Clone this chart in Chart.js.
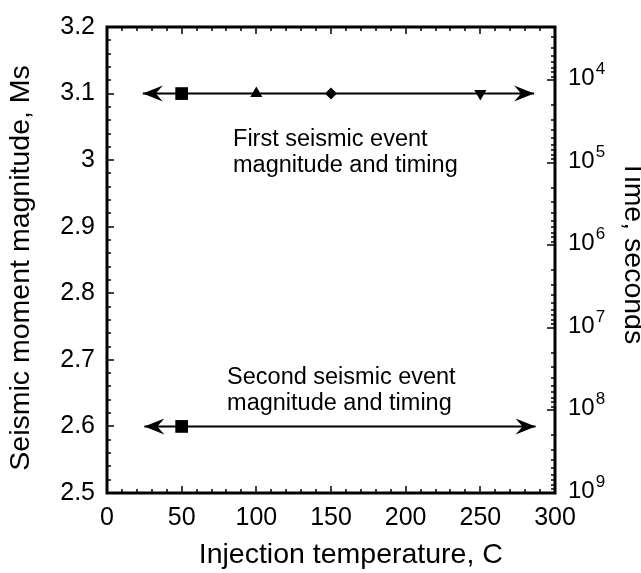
<!DOCTYPE html>
<html>
<head>
<meta charset="utf-8">
<script src="https://cdn.jsdelivr.net/npm/chart.js@4/dist/chart.umd.min.js"></script>
<style>
  html, body { margin: 0; padding: 0; background: #fff; }
  canvas { display: block; }
</style>
</head>
<body>
<canvas id="chart" width="641" height="573"></canvas>
<script>
// data
const firstTemps = [50, 100, 150, 250];
const firstMagnitudes = [3.1, 3.1, 3.1, 3.1];
const secondTemps = [50];
const secondMagnitudes = [2.6];
const firstSpan = [24, 286];   // arrow ends, injection temperature C
const secondSpan = [25, 287];

const tempRange = [0, 300];
const magnitudeRange = [2.5, 3.2];
const timeRange = [2250, 1e9];
const timeTicks = [1e4, 1e5, 1e6, 1e7, 1e8, 1e9];
const timeTickExponents = ['4', '5', '6', '7', '8', '9'];

const notes = [
  { x: 84.4, y: 3.021, lines: ['First seismic event', 'magnitude and timing'] },
  { x: 80.4, y: 2.664, lines: ['Second seismic event', 'magnitude and timing'] }
];

const FONT = "'Liberation Sans', Arial, sans-serif";

// frame, inward tick marks, time labels, arrow heads and text notes
const decorations = {
  id: 'decorations',
  afterDatasetsDraw(chart) {
    const { ctx, chartArea: a, scales } = chart;
    const x = scales.x, y = scales.y, y2 = scales.y2;
    ctx.save();
    ctx.strokeStyle = '#000';
    ctx.fillStyle = '#000';
    ctx.lineWidth = 1.5;
    const seg = (x1, y1, x2, y2_) => { ctx.beginPath(); ctx.moveTo(x1, y1); ctx.lineTo(x2, y2_); ctx.stroke(); };

    // x ticks (bottom and top)
    for (let v = tempRange[0]; v <= tempRange[1]; v += 10) {
      const px = Math.round(x.getPixelForValue(v));
      const len = v % 50 === 0 ? 7 : 4;
      seg(px, a.bottom, px, a.bottom - len);
      seg(px, a.top, px, a.top + len);
    }
    // left ticks
    for (let i = 0; i <= 35; i++) {
      const v = magnitudeRange[0] + i * 0.02;
      const py = Math.round(y.getPixelForValue(v));
      const len = i % 5 === 0 ? 7 : 4;
      seg(a.left, py, a.left + len, py);
    }
    // right log ticks
    for (let e = 3; e <= 9; e++) {
      for (let k = 1; k <= 9; k++) {
        const v = k * Math.pow(10, e);
        if (v < timeRange[0] || v > timeRange[1]) continue;
        const py = Math.round(y2.getPixelForValue(v));
        const len = k === 1 ? 8 : 4;
        seg(a.right, py, a.right - len, py);
      }
    }

    // right labels, 10 with a raised exponent
    ctx.textAlign = 'left';
    ctx.textBaseline = 'middle';
    timeTicks.forEach((v, i) => {
      const py = y2.getPixelForValue(v) - 2;
      const lx = a.right + 13;
      ctx.font = '24px ' + FONT;
      ctx.fillText('10', lx, py);
      const w = ctx.measureText('10').width;
      ctx.font = '17px ' + FONT;
      ctx.fillText(timeTickExponents[i], lx + w + 1, py - 9);
    });

    // arrow heads
    const head = (tipX, tipY, dir) => {
      ctx.beginPath();
      ctx.moveTo(tipX, tipY);
      ctx.lineTo(tipX + dir * 20, tipY - 8);
      ctx.lineTo(tipX + dir * 13, tipY);
      ctx.lineTo(tipX + dir * 20, tipY + 8);
      ctx.closePath();
      ctx.fill();
    };
    [[firstSpan, firstMagnitudes[0]], [secondSpan, secondMagnitudes[0]]].forEach(([span, m]) => {
      const py = y.getPixelForValue(m);
      head(x.getPixelForValue(span[0]), py, 1);
      head(x.getPixelForValue(span[1]), py, -1);
    });

    // notes
    ctx.font = '23.5px ' + FONT;
    ctx.textAlign = 'left';
    ctx.textBaseline = 'alphabetic';
    notes.forEach(n => {
      const px = x.getPixelForValue(n.x), py = y.getPixelForValue(n.y);
      n.lines.forEach((t, i) => ctx.fillText(t, px, py + i * 26));
    });

    // frame
    ctx.lineWidth = 3;
    ctx.strokeRect(a.left, a.top, a.width, a.height);
    ctx.restore();
  }
};

new Chart(document.getElementById('chart'), {
  type: 'scatter',
  data: {
    datasets: [
      {
        label: 'First event',
        data: firstTemps.map((t, i) => ({ x: t, y: firstMagnitudes[i] })),
        pointStyle: ['rect', 'triangle', 'rectRot', 'triangle'],
        rotation: [0, 0, 0, 180],
        pointRadius: [9, 7, 6, 7],
        backgroundColor: '#000', borderColor: '#000', borderWidth: 0,
        yAxisID: 'y'
      },
      {
        label: 'Second event',
        data: secondTemps.map((t, i) => ({ x: t, y: secondMagnitudes[i] })),
        pointStyle: 'rect', pointRadius: 9,
        backgroundColor: '#000', borderColor: '#000', borderWidth: 0,
        yAxisID: 'y'
      },
      {
        label: 'First span',
        data: firstSpan.map(t => ({ x: t, y: firstMagnitudes[0] })),
        showLine: true, pointRadius: 0, borderColor: '#000', borderWidth: 2,
        yAxisID: 'y'
      },
      {
        label: 'Second span',
        data: secondSpan.map(t => ({ x: t, y: secondMagnitudes[0] })),
        showLine: true, pointRadius: 0, borderColor: '#000', borderWidth: 2,
        yAxisID: 'y'
      }
    ]
  },
  options: {
    responsive: false,
    animation: false,
    layout: { padding: { top: 24, left: 0, right: 0, bottom: 0 } },
    plugins: { legend: { display: false }, tooltip: { enabled: false } },
    scales: {
      x: {
        type: 'linear', position: 'bottom',
        min: tempRange[0], max: tempRange[1],
        grid: { display: false, drawTicks: false },
        border: { display: false },
        ticks: { stepSize: 50, color: '#000', padding: 10, font: { family: FONT, size: 25 } },
        // leading spaces push the title right as in the figure
        title: { display: true, text: '     Injection temperature, C', color: '#000',
                 font: { family: FONT, size: 28.5 }, padding: { top: 0, bottom: 1 } },
        afterFit: s => { s.height = 80; }
      },
      y: {
        type: 'linear', position: 'left',
        min: magnitudeRange[0], max: magnitudeRange[1],
        grid: { display: false, drawTicks: false },
        border: { display: false },
        ticks: { stepSize: 0.1, color: '#000', padding: 12, font: { family: FONT, size: 25 },
                 callback: v => String(+v.toFixed(2)) },
        title: { display: true, text: 'Seismic moment magnitude, Ms  ', color: '#000',
                 font: { family: FONT, size: 28.5 }, padding: { top: 4, bottom: 0 } },
        afterFit: s => { s.width = 107; }
      },
      y2: {
        type: 'logarithmic', position: 'right', reverse: true,
        min: timeRange[0], max: timeRange[1],
        grid: { display: false, drawTicks: false },
        border: { display: false },
        afterBuildTicks: s => { s.ticks = timeTicks.map(v => ({ value: v })); },
        ticks: { display: false },
        title: { display: true, text: 'Time, seconds  ', color: '#000',
                 font: { family: FONT, size: 28.5 }, padding: { top: -9, bottom: 0 } },
        afterFit: s => { s.width = 86; }
      }
    }
  },
  plugins: [decorations]
});
</script>
</body>
</html>
